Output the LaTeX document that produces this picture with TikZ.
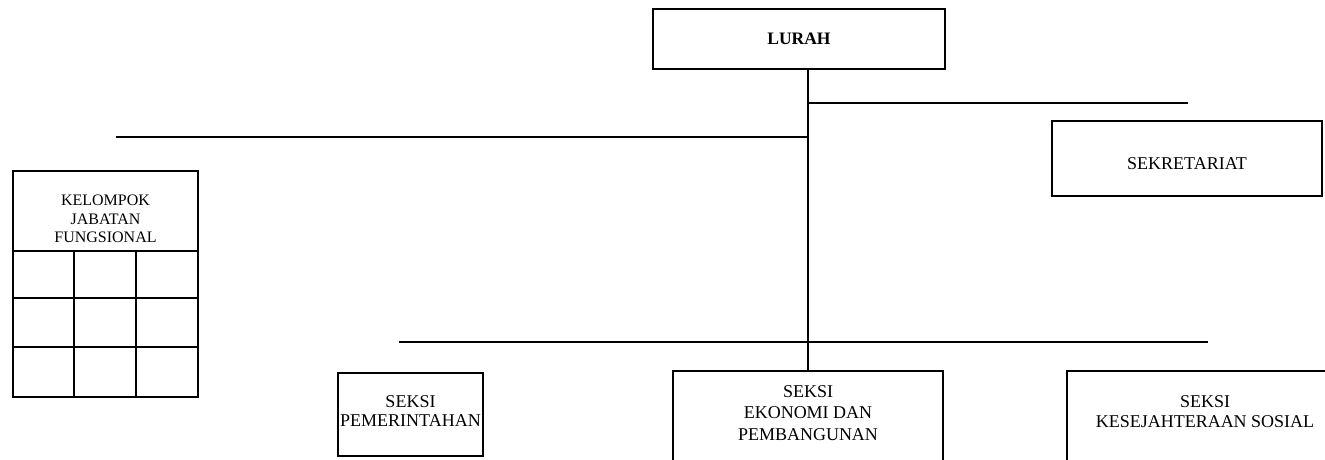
\documentclass[tikz,border=0pt]{standalone}
\usepackage{fontspec}
\setmainfont{Liberation Serif}
\begin{document}
\begin{tikzpicture}[x=1pt,y=-1pt,
  box/.style={draw=black,line width=1.6pt,rectangle,inner sep=0pt},
  ln/.style={draw=black,line width=1.6pt},
  txt/.style={inner sep=0pt,align=center,anchor=north,font=\fontsize{18}{21}\selectfont},
  smalltxt/.style={inner sep=0pt,align=center,anchor=north,font=\fontsize{16}{18.5}\selectfont}]
\useasboundingbox (0,0) rectangle (1325,459);
% LURAH
\node[box,minimum width=292pt,minimum height=60pt,font=\fontsize{17.5}{20}\selectfont\bfseries] (lurah) at (799,39) {LURAH};
% Sekretariat
\node[box,minimum width=270pt,minimum height=75pt] (sek) at (1187,158.5) {};
\node[txt,anchor=center] (sektxt) at (1187,164) {SEKRETARIAT};
% Kelompok jabatan fungsional
\node[box,minimum width=185pt,minimum height=226pt] (kjf) at (105.5,284) {};
\node[smalltxt] (kjftxt) at (105.5,195) {KELOMPOK\\JABATAN\\FUNGSIONAL};
\coordinate (g1l) at (13,251); \coordinate (g1r) at (198,251);
\coordinate (g2l) at (13,298); \coordinate (g2r) at (198,298);
\coordinate (g3l) at (13,347); \coordinate (g3r) at (198,347);
\coordinate (c1t) at (74,251); \coordinate (c1b) at (74,397);
\coordinate (c2t) at (136,251); \coordinate (c2b) at (136,397);
\draw[ln] (g1l) -- (g1r);
\draw[ln] (g2l) -- (g2r);
\draw[ln] (g3l) -- (g3r);
\draw[ln] (c1t) -- (c1b);
\draw[ln] (c2t) -- (c2b);
% Seksi boxes
\node[box,minimum width=145pt,minimum height=83pt] (pem) at (410.5,414.5) {};
\node[txt,font=\fontsize{18}{19}\selectfont] (pemtxt) at (410.5,395) {SEKSI\\PEMERINTAHAN};
\node[box,minimum width=270pt,minimum height=120pt] (eko) at (808,431) {};
\node[txt,font=\fontsize{18}{21.5}\selectfont] (ekotxt) at (808,385) {SEKSI\\EKONOMI DAN\\PEMBANGUNAN};
\node[box,minimum width=290pt,minimum height=120pt] (kes) at (1212,431) {};
\node[txt,font=\fontsize{18}{20}\selectfont] (kestxt) at (1205,395) {SEKSI\\KESEJAHTERAAN SOSIAL};
% connectors
\coordinate (h1a) at (808,103); \coordinate (h1b) at (1188,103);
\coordinate (h2a) at (116,137); \coordinate (h2b) at (808,137);
\coordinate (h3a) at (399,342); \coordinate (h3b) at (1208,342);
\draw[ln] (eko.north |- lurah.south) -- (eko.north);
\draw[ln] (h1a) -- (h1b);
\draw[ln] (h2a) -- (h2b);
\draw[ln] (h3a) -- (h3b);
\end{tikzpicture}
\end{document}
